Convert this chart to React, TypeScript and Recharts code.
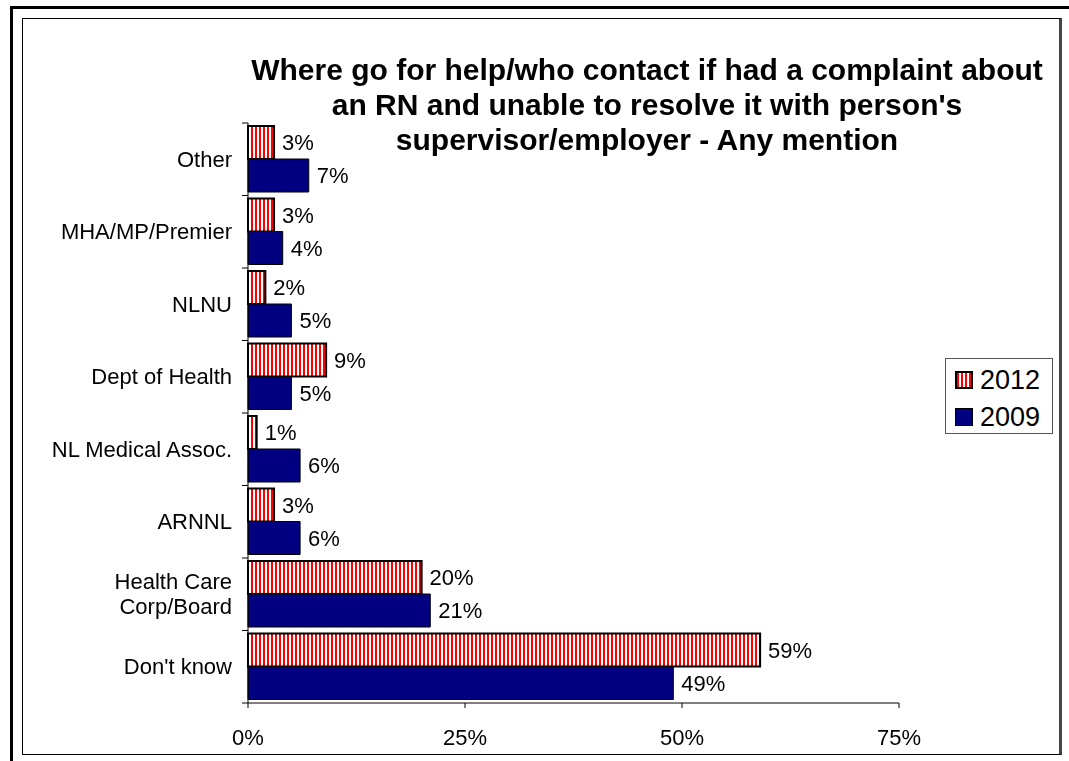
import React from "react";
import { Bar, BarChart, LabelList, Legend, XAxis, YAxis } from "recharts";

const categories = [
  "Other",
  "MHA/MP/Premier",
  "NLNU",
  "Dept of Health",
  "NL Medical Assoc.",
  "ARNNL",
  "Health Care\nCorp/Board",
  "Don't know"
];
const values2012 = [3, 3, 2, 9, 1, 3, 20, 59];
const values2009 = [7, 4, 5, 5, 6, 6, 21, 49];
const xTicks = [0, 25, 50, 75];
const seriesNames = ["2012", "2009"];

const FONT = "'Liberation Sans', Arial, sans-serif";
const NAVY = "#000080";
const RED = "#ff0000";

const data = categories.map((name, i) => ({
  name,
  y2012: values2012[i],
  y2009: values2009[i]
}));

function CategoryTick(props: any): JSX.Element {
  const { x, y, payload, index } = props;
  const half = payload?.offset || 36;
  const axisX = x + 16;
  const lines = String(payload.value).split("\n");
  const lineH = 25;
  const startY = y - ((lines.length - 1) * lineH) / 2;
  return (
    <g>
      <line x1={axisX - 6} x2={axisX} y1={y - half} y2={y - half} stroke="#000" />
      {index === categories.length - 1 ? (
        <line x1={axisX - 6} x2={axisX} y1={y + half} y2={y + half} stroke="#000" />
      ) : null}
      <text x={x} y={startY} textAnchor="end" fontSize={22} fontFamily={FONT} fill="#000">
        {lines.map((line, i) => (
          <tspan key={i} x={x} y={startY + i * lineH} dy="0.35em">
            {line}
          </tspan>
        ))}
      </text>
    </g>
  );
}

function LegendBox(): JSX.Element {
  const swatches = [
    { background: `repeating-linear-gradient(90deg, ${RED} 0 2px, #fff 2px 4px)`, border: "2px solid #000" },
    { background: NAVY, border: "1px solid #000" }
  ];
  return (
    <div
      style={{
        width: 108,
        height: 76,
        boxSizing: "border-box",
        border: "1px solid #555",
        background: "#fff",
        paddingTop: 2,
        fontFamily: FONT
      }}
    >
      {seriesNames.map((name, i) => (
        <div key={name} style={{ display: "flex", alignItems: "center", height: 37, paddingLeft: 9 }}>
          <span
            style={{
              display: "inline-block",
              width: 18,
              height: 18,
              boxSizing: "border-box",
              marginRight: 7,
              ...swatches[i]
            }}
          />
          <span style={{ fontSize: 27, lineHeight: "30px", color: "#000" }}>{name}</span>
        </div>
      ))}
    </div>
  );
}

export default function App(): JSX.Element {
  return (
    <div>
      <div
        style={{
          position: "fixed",
          left: 10,
          top: 6,
          right: 0,
          bottom: 0,
          borderLeft: "3px solid #000",
          borderTop: "3px solid #000"
        }}
      />
      <div
        style={{
          position: "absolute",
          left: 22,
          top: 18,
          width: 1036,
          height: 735,
          borderTop: "1px solid #000",
          borderLeft: "1px solid #000",
          borderBottom: "1px solid #000",
          borderRight: "3px solid #444",
          background: "#fff"
        }}
      >
        <div
          style={{
            position: "absolute",
            left: 174,
            top: 33,
            width: 900,
            textAlign: "center",
            fontFamily: FONT,
            fontWeight: "bold",
            fontSize: 30,
            lineHeight: "35px",
            color: "#000"
          }}
        >
          Where go for help/who contact if had a complaint about
          <br />
          an RN and unable to resolve it with person's
          <br />
          supervisor/employer - Any mention
        </div>
        <div style={{ position: "absolute", left: 0, top: 0 }}>
          <BarChart
            width={1036}
            height={735}
            data={data}
            layout="vertical"
            margin={{ top: 104, right: 160, bottom: 11, left: 0 }}
            barCategoryGap={3}
            barGap={0}
          >
            <defs>
              <pattern id="stripes" width="4" height="4" patternUnits="userSpaceOnUse">
                <rect width="4" height="4" fill="#fff" />
                <rect width="2" height="4" fill={RED} />
              </pattern>
            </defs>
            <XAxis
              type="number"
              domain={[0, 75]}
              ticks={xTicks}
              tickFormatter={(v: number) => `${v}%`}
              axisLine={{ stroke: "#000" }}
              tickLine={{ stroke: "#000" }}
              tickSize={5}
              tickMargin={21}
              height={40}
              tick={{ fontSize: 22, fontFamily: FONT, fill: "#000" }}
            />
            <YAxis
              type="category"
              dataKey="name"
              width={225}
              axisLine={{ stroke: "#000" }}
              tickLine={false}
              tickSize={0}
              tickMargin={16}
              interval={0}
              tick={<CategoryTick />}
            />
            <Legend
              layout="vertical"
              align="center"
              verticalAlign="middle"
              content={() => <LegendBox />}
              wrapperStyle={{ left: 922, top: 339, width: 108 }}
            />
            <Bar
              dataKey="y2012"
              name="2012"
              fill="url(#stripes)"
              stroke="#000"
              strokeWidth={2}
              isAnimationActive={false}
            >
              <LabelList
                dataKey="y2012"
                position="right"
                offset={8}
                formatter={(v: any) => `${v}%`}
                style={{ fontSize: 22, fontFamily: FONT, fill: "#000" }}
              />
            </Bar>
            <Bar
              dataKey="y2009"
              name="2009"
              fill={NAVY}
              stroke="#000"
              strokeWidth={1}
              isAnimationActive={false}
            >
              <LabelList
                dataKey="y2009"
                position="right"
                offset={8}
                formatter={(v: any) => `${v}%`}
                style={{ fontSize: 22, fontFamily: FONT, fill: "#000" }}
              />
            </Bar>
          </BarChart>
        </div>
      </div>
    </div>
  );
}
